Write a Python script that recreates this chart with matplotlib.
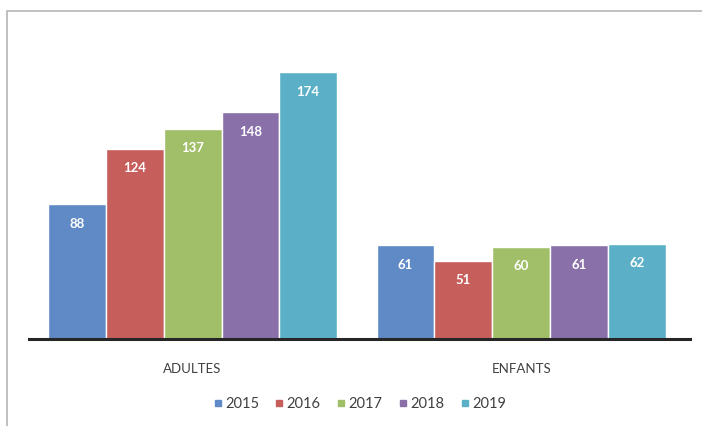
import numpy as np
import matplotlib
matplotlib.use('Agg')
import matplotlib.pyplot as plt
from matplotlib.patches import Rectangle
from matplotlib.lines import Line2D

plt.rcParams['font.family'] = ['Lato', 'DejaVu Sans']

categories = ['ADULTES', 'ENFANTS']
years = ['2015', '2016', '2017', '2018', '2019']
values = {
    '2015': [88, 61],
    '2016': [124, 51],
    '2017': [137, 60],
    '2018': [148, 61],
    '2019': [174, 62],
}
colors = ['#5F8AC6', '#C65E5C', '#A1BF69', '#8A70A9', '#5BB0C8']

fig = plt.figure(figsize=(7.02, 4.26), dpi=100)
# outer gray frame (chart area border, cut off on right/bottom)
fig.patches.append(Rectangle((7 / 702, -0.1), 1.2, 1 - 11 / 426 + 0.1,
                             transform=fig.transFigure, fill=False,
                             edgecolor='#B5B5B5', linewidth=1.2))

ax = fig.add_axes([29 / 702, 87 / 426, 661 / 702, 276 / 426])
x = np.arange(len(categories))
w = 0.176
for i, yr in enumerate(years):
    pos = x + (i - 2) * w
    bars = ax.bar(pos, values[yr], width=w, color=colors[i],
                  edgecolor='white', linewidth=1.0)
    for b, v in zip(bars, values[yr]):
        ax.annotate(str(v), (b.get_x() + b.get_width() / 2, v),
                    xytext=(0, -14), textcoords='offset points',
                    ha='center', va='center', color='white',
                    fontsize=9.5, fontweight='bold')

ax.set_xlim(-0.498, 1.514)
ax.set_ylim(0, 180)
ax.set_yticks([])
ax.set_xticks(x)
ax.set_xticklabels(categories, fontsize=9.5, color='#404040')
ax.tick_params(axis='x', length=0, pad=17)
for s in ['top', 'right', 'left']:
    ax.spines[s].set_visible(False)
ax.spines['bottom'].set_linewidth(2.2)
ax.spines['bottom'].set_color('#262626')

handles = [Line2D([], [], marker='s', linestyle='none', color=c, markersize=4.5)
           for c in colors]
fig.legend(handles, years, loc='center', bbox_to_anchor=(358 / 702, 1 - 404 / 426),
           ncol=5, frameon=False, fontsize=10.5, handletextpad=0.0,
           handlelength=1.0, columnspacing=0.9, labelcolor='#404040')

fig.savefig('out.png', dpi=100, facecolor='white')
